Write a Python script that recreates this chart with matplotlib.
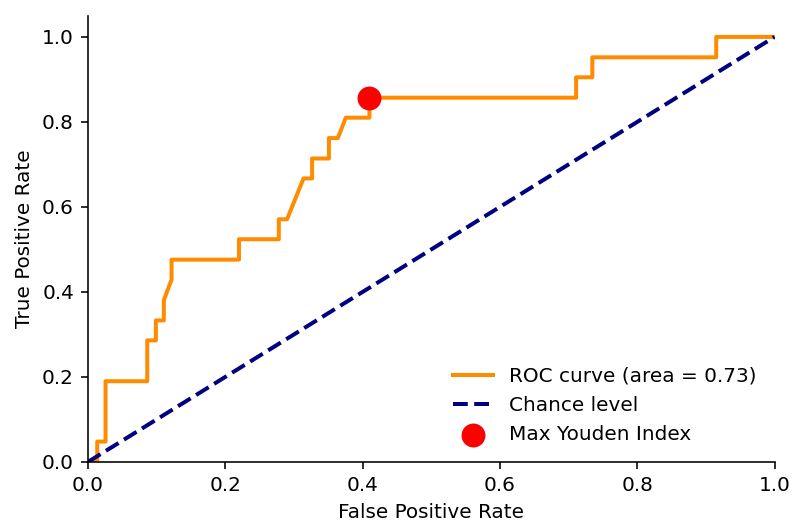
import matplotlib
matplotlib.use('Agg')
import matplotlib.pyplot as plt

# ROC curve vertices
fpr = [0.0, 0.0136, 0.0136, 0.0257, 0.0257, 0.0864, 0.0864, 0.099, 0.099,
       0.1106, 0.1106, 0.1218, 0.1218, 0.22, 0.22, 0.278, 0.278, 0.290,
       0.314, 0.3265, 0.3265, 0.351, 0.351, 0.364, 0.3755, 0.41, 0.41,
       0.711, 0.711, 0.7346, 0.7346, 0.915, 0.915, 1.0]
tpr = [0.0, 0.0, 0.048, 0.048, 0.190, 0.190, 0.286, 0.286, 0.333,
       0.333, 0.381, 0.429, 0.476, 0.476, 0.524, 0.524, 0.571, 0.571,
       0.667, 0.667, 0.714, 0.714, 0.762, 0.762, 0.810, 0.810, 0.857,
       0.857, 0.905, 0.905, 0.952, 0.952, 1.0, 1.0]
roc_auc = 0.73

# punto de máximo índice de Youden
youden_fpr = 0.41
youden_tpr = 0.857

dpi = 144
fig, ax = plt.subplots(figsize=(5.5, 3.625), dpi=dpi)
fig.subplots_adjust(left=0.111, right=0.978, bottom=0.115, top=0.970)

ax.plot(fpr, tpr, color='darkorange', lw=2,
        label=f'ROC curve (area = {roc_auc:.2f})')
ax.plot([0, 1], [0, 1], color='navy', lw=2, linestyle='--', label='Chance level')
ax.scatter([youden_fpr], [youden_tpr], color='red', s=120, zorder=5,
           label='Max Youden Index')

ax.set_xlim(0.0, 1.0)
ax.set_ylim(0.0, 1.05)
ax.set_xlabel('False Positive Rate')
ax.set_ylabel('True Positive Rate')
ax.spines['top'].set_visible(False)
ax.spines['right'].set_visible(False)
ax.legend(loc='lower right', frameon=False)

plt.savefig('out.png', dpi=dpi)
plt.close()
